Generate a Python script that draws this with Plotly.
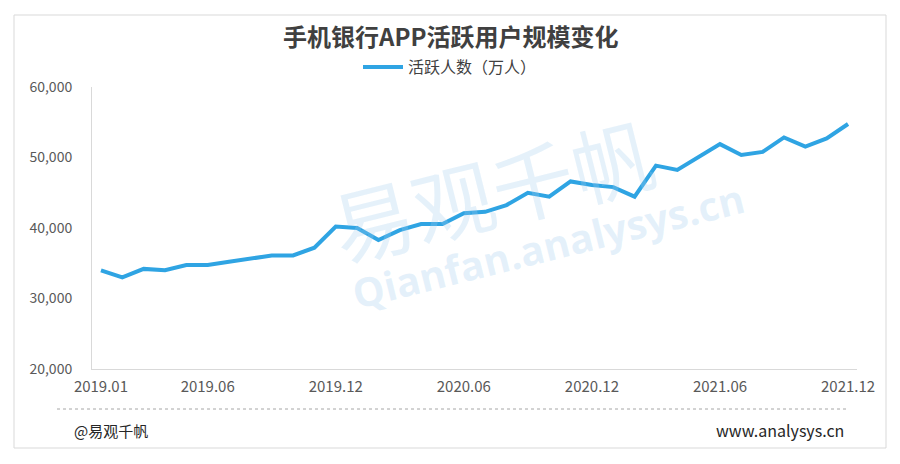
import plotly.graph_objects as go

months = [f"{y}.{m:02d}" for y in (2019, 2020, 2021) for m in range(1, 13)]
active_users = [34000, 33000, 34200, 34000, 34750, 34750, 35200, 35700, 36100, 36100, 37200, 40200,
                40000, 38300, 39700, 40550, 40550, 42100, 42300, 43250, 45000, 44450, 46600, 46100,
                45800, 44450, 48850, 48250, 50100, 51900, 50350, 50800, 52850, 51550, 52700, 54750]
tick_labels = ["2019.01", "2019.06", "2019.12", "2020.06", "2020.12", "2021.06", "2021.12"]
y_ticks = [20000, 30000, 40000, 50000, 60000]

W, H = 900, 464
L, R, T, B = 92, 43, 87, 95
pw, ph = W - L - R, H - T - B

def px(x):
    return (x - L) / pw

def py(y):
    return (H - B - y) / ph

FONT = "Noto Sans CJK SC"
fig = go.Figure()
fig.add_trace(go.Scatter(
    x=months, y=active_users, mode="lines", name="活跃人数（万人）",
    line=dict(color="#2FA4E3", width=4),
))

shapes = [
    dict(type="rect", xref="paper", yref="paper", x0=px(14), x1=px(886), y0=py(448), y1=py(15),
         line=dict(color="#D9D9D9", width=1), fillcolor="rgba(0,0,0,0)", layer="below"),
    dict(type="line", xref="paper", yref="paper", x0=px(57), x1=px(848), y0=py(409), y1=py(409),
         line=dict(color="#A6A6A6", width=1, dash="dot")),
]

annotations = [
    dict(text="<b>手机银行APP活跃用户规模变化</b>", xref="paper", yref="paper", x=px(450), y=py(36),
         showarrow=False, font=dict(family=FONT, size=24, color="#404040"), xanchor="center", yanchor="middle"),
    dict(text="@易观千帆", xref="paper", yref="paper", x=px(72), y=py(430), showarrow=False,
         font=dict(family=FONT, size=15, color="#262626"), xanchor="left", yanchor="middle"),
    dict(text="www.analysys.cn", xref="paper", yref="paper", x=px(846), y=py(430), showarrow=False,
         font=dict(family=FONT, size=16, color="#262626"), xanchor="right", yanchor="middle"),
    dict(text="易观千帆", xref="paper", yref="paper", x=px(492), y=py(188), showarrow=False, textangle=-14,
         font=dict(family=FONT, size=82, color="rgba(160,205,238,0.28)"), xanchor="center", yanchor="middle"),
    dict(text="<b>Qianfan.analysys.cn</b>", xref="paper", yref="paper", x=px(548), y=py(245), showarrow=False,
         textangle=-14, font=dict(family="Open Sans", size=40, color="rgba(160,205,238,0.28)"),
         xanchor="center", yanchor="middle"),
]

fig.update_layout(
    width=W, height=H,
    margin=dict(l=L, r=R, t=T, b=B, pad=0),
    paper_bgcolor="white", plot_bgcolor="white",
    font=dict(family=FONT, color="#595959", size=14),
    showlegend=True,
    legend=dict(orientation="h", x=px(450), xanchor="center", y=py(67), yanchor="middle",
                font=dict(family=FONT, size=16, color="#404040"), itemwidth=40, bgcolor="rgba(0,0,0,0)"),
    xaxis=dict(type="category", range=[-0.42, 35.42], tickmode="array", tickvals=tick_labels,
               ticktext=tick_labels, showgrid=False, showline=True, linecolor="#D9D9D9", linewidth=1,
               ticks="", tickfont=dict(family=FONT, size=15, color="#595959"), zeroline=False, ticklabelstandoff=4),
    yaxis=dict(range=[20000, 60000], tickmode="array", tickvals=y_ticks, tickformat=",",
               showgrid=False, showline=True, linecolor="#D9D9D9", linewidth=1, ticks="",
               tickfont=dict(family=FONT, size=14, color="#595959"), zeroline=False, ticklabelstandoff=16),
    shapes=shapes, annotations=annotations,
)

fig.write_html("out.html", config={"displayModeBar": False},
               post_script="document.body.style.margin='0';document.body.style.overflow='hidden';")
